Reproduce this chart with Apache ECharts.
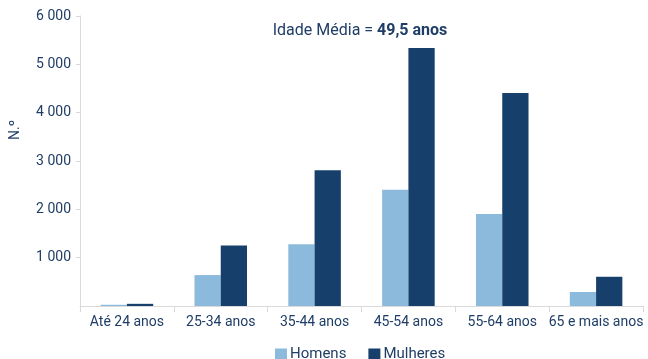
<!DOCTYPE html>
<html>
<head>
<meta charset="utf-8">
<script src="https://cdn.jsdelivr.net/npm/echarts@6/dist/echarts.min.js"></script>
<style>
  html, body { margin: 0; padding: 0; background: #fff; }
  #chart { width: 648px; height: 359px; }
</style>
</head>
<body>
<div id="chart"></div>
<script>
// Age groups and headcount by sex
const categories = ['Até 24 anos', '25-34 anos', '35-44 anos', '45-54 anos', '55-64 anos', '65 e mais anos'];
const homens = [25, 640, 1280, 2405, 1905, 290];
const mulheres = [45, 1250, 2810, 5340, 4405, 605];
const yTicks = [0, 1000, 2000, 3000, 4000, 5000, 6000];

const textColor = '#1f3d66';
const font = 'Roboto, "Open Sans", sans-serif';

function fmt(v) {
  return String(v).replace(/\B(?=(\d{3})+(?!\d))/g, ' ');
}

const chart = echarts.init(document.getElementById('chart'));
chart.setOption({
  animation: false,
  textStyle: { fontFamily: font, color: textColor },
  title: {
    text: '{n|Idade Média = }{b|49,5 anos}',
    left: 355,
    top: 18,
    textAlign: 'center',
    textStyle: {
      fontWeight: 'normal',
      rich: {
        n: { fontFamily: font, fontSize: 16, color: textColor, fontWeight: 'normal' },
        b: { fontFamily: font, fontSize: 16, color: textColor, fontWeight: 'bold' }
      }
    }
  },
  legend: {
    top: 342,
    left: 270,
    padding: 5,
    itemWidth: 12,
    itemHeight: 12,
    itemGap: 22,
    icon: 'rect',
    textStyle: { fontFamily: font, fontSize: 15, color: textColor, padding: [0, 0, 0, -2] },
    data: ['Homens', 'Mulheres']
  },
  grid: { left: 77, right: 5, top: 16, bottom: 53 },
  xAxis: {
    type: 'category',
    data: categories,
    axisLine: { lineStyle: { color: '#d9d9d9' } },
    axisTick: { show: true, length: 6, lineStyle: { color: '#d9d9d9' } },
    axisLabel: { fontFamily: font, fontSize: 14, color: textColor, margin: 9, interval: 0 }
  },
  yAxis: {
    type: 'value',
    min: yTicks[0],
    max: yTicks[yTicks.length - 1],
    interval: yTicks[1] - yTicks[0],
    name: 'N.º',
    nameLocation: 'middle',
    nameGap: 58,
    nameRotate: 90,
    nameTextStyle: { fontFamily: font, fontSize: 14, color: textColor, padding: [0, 0, 0, 62] },
    axisLine: { show: true, lineStyle: { color: '#d9d9d9' } },
    axisTick: { show: true, length: 4, lineStyle: { color: '#d9d9d9' } },
    splitLine: { show: false },
    axisLabel: { fontFamily: font, fontSize: 14, color: textColor, margin: 9, formatter: fmt, showMinLabel: false }
  },
  series: [
    {
      name: 'Homens',
      type: 'bar',
      data: homens,
      barGap: '0%',
      barCategoryGap: '44%',
      itemStyle: { color: '#8bbadc' }
    },
    {
      name: 'Mulheres',
      type: 'bar',
      data: mulheres,
      itemStyle: { color: '#173f6b' }
    }
  ]
});
</script>
</body>
</html>
